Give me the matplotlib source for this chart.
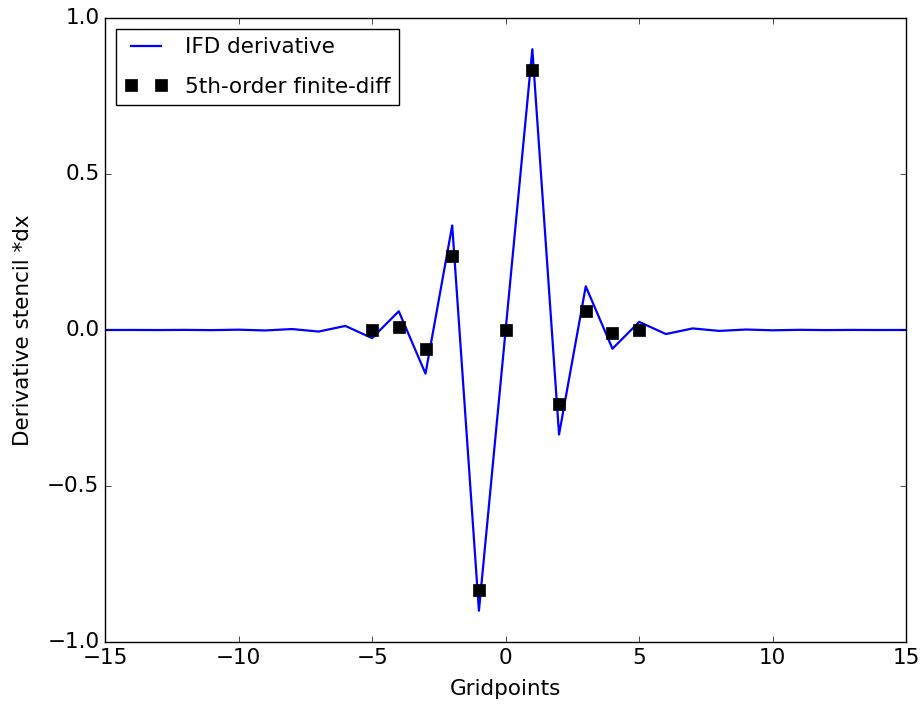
import numpy as np
import matplotlib
matplotlib.use('Agg')
import matplotlib.pyplot as plt

plt.style.use('classic')

# IFD derivative stencil, integer gridpoints -15..15 (antisymmetric)
grid = np.arange(-15, 16)
ifd_half = [0.9, -0.335, 0.14, -0.06, 0.026, -0.013, 0.005, -0.003,
            0.0015, -0.001, 0.0005, -0.0003, 0.0002, -0.0001, 0.00005]
ifd = np.concatenate([-np.array(ifd_half[::-1]), [0.0], np.array(ifd_half)])

# 5th-order finite difference coefficients, gridpoints -5..5
fd_grid = np.arange(-5, 6)
fd_half = [5/6, -5/21, 5/84, -5/504, 1/1260]
fd = np.concatenate([-np.array(fd_half[::-1]), [0.0], np.array(fd_half)])

fs = 15.5

fig = plt.figure(figsize=(9.21, 7.06), dpi=100, facecolor='white')
ax = fig.add_axes([0.114, 0.0907, 0.870, 0.8838])

ax.plot(grid, ifd, color='b', lw=1.6, label='IFD derivative')
ax.plot(fd_grid, fd, 's', color='k', markersize=8, label='5th-order finite-diff')

ax.set_xlim(-15, 15)
ax.set_ylim(-1.0, 1.0)
ax.set_yticks([-1.0, -0.5, 0.0, 0.5, 1.0])
ax.tick_params(labelsize=fs)
ax.set_xlabel('Gridpoints', fontsize=fs, labelpad=8)
ax.set_ylabel('Derivative stencil *dx', fontsize=fs, labelpad=10)
ax.legend(loc='upper left', fontsize=fs, labelspacing=0.9)

fig.savefig('out.png', dpi=100, facecolor='white')
